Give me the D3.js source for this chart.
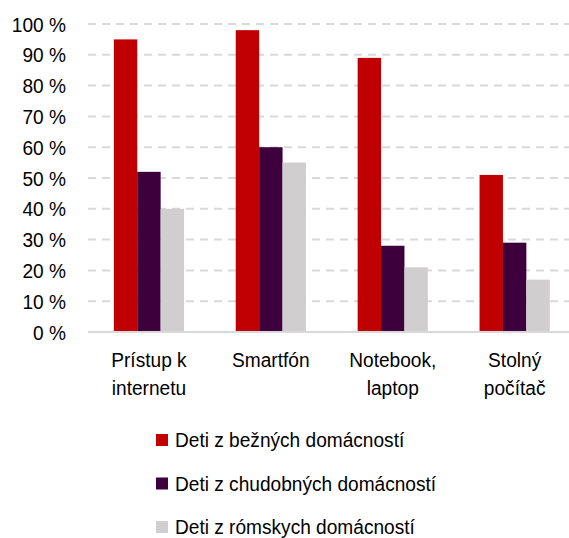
<!DOCTYPE html>
<html><head><meta charset="utf-8">
<script src="https://cdn.jsdelivr.net/npm/d3@7"></script>
<style>
body{margin:0;background:#fff;}
text{font-family:"Liberation Sans",Arial,sans-serif;fill:#000;}
</style></head><body>
<svg id="c" width="569" height="538"></svg>
<script>
const categories = [["Prístup k","internetu"],["Smartfón"],["Notebook,","laptop"],["Stolný","počítač"]];
const seriesNames = ["Deti z bežných domácností","Deti z chudobných domácností","Deti z rómskych domácností"];
const seriesColors = ["#c00000","#3d003c","#d0cece"];
const bezne = [95, 98, 89, 51];
const chudobne = [52, 60, 28, 29];
const romske = [40, 55, 21, 17];
const yTicks = [0,10,20,30,40,50,60,70,80,90,100];

const values = [bezne, chudobne, romske];
const svg = d3.select("#c");
const catIdx = d3.range(categories.length);
const FS = "21px", SX = 0.91;

const x = d3.scaleBand().domain(catIdx).range([88, 575.6]).paddingInner(0.424).paddingOuter(0.212);
const x1 = d3.scaleBand().domain(d3.range(seriesNames.length)).range([0, x.bandwidth()]);
const y = d3.scaleLinear().domain([0,100]).range([332, 24]);

// gridlines
svg.append("g").selectAll("line").data(yTicks.filter(d=>d>0)).join("line")
  .attr("x1",88).attr("x2",569).attr("y1",d=>y(d)).attr("y2",d=>y(d))
  .attr("stroke","#d9d9d9").attr("stroke-width",2).attr("stroke-dasharray","8,6");

// y labels
svg.append("g").selectAll("g").data(yTicks).join("g")
  .attr("transform",d=>`translate(66,${y(d)}) scale(${SX},1)`)
  .append("text").attr("dy","0.36em").attr("text-anchor","end")
  .style("font-size",FS).text(d=>d+" %");

// bars
values.forEach((vals,s)=>{
  svg.append("g").selectAll("rect").data(vals).join("rect")
    .attr("x",(d,i)=>x(i)+x1(s)).attr("width",x1.bandwidth())
    .attr("y",d=>y(d)).attr("height",d=>y(0)-y(d))
    .attr("fill",seriesColors[s]);
});

// axis line
svg.append("line").attr("x1",88).attr("x2",569).attr("y1",y(0)).attr("y2",y(0))
  .attr("stroke","#d9d9d9").attr("stroke-width",2);

// category labels
const cl = svg.append("g").selectAll("g").data(catIdx).join("g")
  .attr("transform",i=>`translate(${x(i)+x.bandwidth()/2},0) scale(${SX},1)`)
  .append("text").attr("text-anchor","middle").style("font-size",FS);
cl.each(function(i){
  const t = d3.select(this);
  categories[i].forEach((line,k)=>{
    t.append("tspan").attr("x",0).attr("y",367+k*28.5).text(line);
  });
});

// legend
const lg = svg.append("g").selectAll("g").data(seriesNames).join("g")
  .attr("transform",(d,i)=>`translate(156,${434+i*43.5})`);
lg.append("rect").attr("width",12).attr("height",12).attr("fill",(d,i)=>seriesColors[i]);
lg.append("g").attr("transform",`translate(19,13) scale(${SX},1)`)
  .append("text").style("font-size",FS).text(d=>d);
</script>
</body></html>
